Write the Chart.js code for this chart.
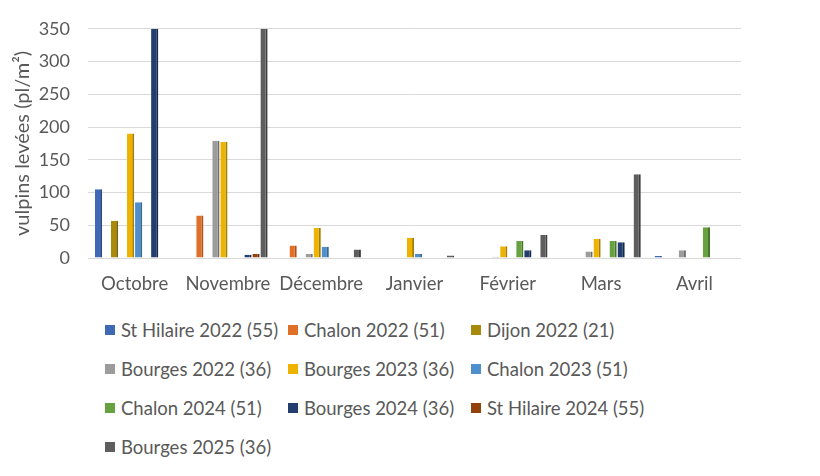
<!DOCTYPE html>
<html>
<head>
<meta charset="utf-8">
<script src="https://cdn.jsdelivr.net/npm/chart.js@4/dist/chart.umd.min.js"></script>
<style>
  body { margin: 0; background: #fff; width: 820px; height: 476px; overflow: hidden; position: relative; font-family: Lato, "Open Sans", sans-serif; }
  #wrap { position: absolute; left: 0; top: 0; width: 820px; height: 300px; }
  #legend { position: absolute; left: 105px; top: 318px; width: 580px; display: grid; grid-template-columns: 183px 183px 200px; row-gap: 15px; }
  .lg { display: flex; align-items: center; font-size: 18.5px; color: #595959; height: 24px; white-space: nowrap; }
  .lg i { display: inline-block; width: 10px; height: 10px; margin-right: 6px; }
</style>
</head>
<body>
<div id="wrap"><canvas id="c"></canvas></div>
<div id="legend"></div>
<script>
// Months on the x axis
const months = ['Octobre', 'Novembre', 'Décembre', 'Janvier', 'Février', 'Mars', 'Avril'];

// Series (bars above 350 are clipped)
const stHilaire2022 = [105, 0, 0, 0, 0, 0, 3];
const chalon2022 = [0, 65, 19, 0, 0, 0, 0];
const dijon2022 = [57, 0, 0, 0, 0, 0, 0];
const bourges2022 = [0, 179, 6, 0, 2, 10, 12];
const bourges2023 = [190, 177, 46, 31, 18, 29, 0];
const chalon2023 = [85, 0, 17, 6, 0, 0, 0];
const chalon2024 = [0, 0, 0, 0, 26, 26, 47];
const bourges2024 = [350, 5, 0, 0, 12, 24, 0];
const stHilaire2024 = [0, 6, 0, 0, 0, 0, 0];
const bourges2025 = [0, 350, 13, 4, 35, 128, 0];

const seriesNames = ['St Hilaire 2022 (55)', 'Chalon 2022 (51)', 'Dijon 2022 (21)', 'Bourges 2022 (36)', 'Bourges 2023 (36)', 'Chalon 2023 (51)', 'Chalon 2024 (51)', 'Bourges 2024 (36)', 'St Hilaire 2024 (55)', 'Bourges 2025 (36)'];
const seriesData = [stHilaire2022, chalon2022, dijon2022, bourges2022, bourges2023, chalon2023, chalon2024, bourges2024, stHilaire2024, bourges2025];
const seriesColors = ['#3F69B5', '#E07028', '#A8890A', '#9C9C9C', '#EDB300', '#4F8FCB', '#67A140', '#223E6E', '#93420D', '#5E5E5E'];
const sideColors = ['#2A4A85', '#A9521C', '#7A6306', '#6E6E6E', '#A57D00', '#366894', '#48752C', '#15284A', '#6A2F08', '#3E3E3E'];

const yTicks = [0, 50, 100, 150, 200, 250, 300, 350];

const datasets = seriesNames.map((name, i) => ({
  label: name,
  data: seriesData[i],
  backgroundColor: seriesColors[i],
  borderColor: sideColors[i],
  borderWidth: { left: 0, right: 2, top: 0, bottom: 0 },
  borderSkipped: false,
  categoryPercentage: 0.86,
  barPercentage: 0.9
}));

// HTML legend in three columns
document.getElementById('legend').innerHTML = seriesNames.map((n, i) =>
  `<div class="lg"><i style="background:${seriesColors[i]}"></i>${n}</div>`
).join('');

new Chart(document.getElementById('c'), {
  type: 'bar',
  data: { labels: months, datasets: datasets },
  options: {
    responsive: true,
    maintainAspectRatio: false,
    animation: false,
    layout: { padding: { left: 11, right: 79, top: 22, bottom: 0 } },
    plugins: { legend: { display: false }, tooltip: { enabled: false } },
    scales: {
      x: {
        grid: { display: false, drawTicks: false },
        border: { display: false },
        ticks: { color: '#595959', font: { family: 'Lato', size: 18.5 }, padding: 15 },
        afterFit: s => { s.height = 42; }
      },
      y: {
        min: 0, max: 350,
        afterBuildTicks: s => { s.ticks = yTicks.map(v => ({ value: v })); },
        grid: { color: '#D9D9D9', lineWidth: 1, drawTicks: false },
        border: { display: false },
        ticks: { color: '#595959', font: { family: 'Lato', size: 18 }, padding: 18 },
        title: { display: true, text: 'vulpins levées (pl/m²)', color: '#595959', font: { family: 'Lato', size: 20 }, padding: 0 },
        afterFit: s => { s.width = 77; }
      }
    }
  }
});
</script>
</body>
</html>
